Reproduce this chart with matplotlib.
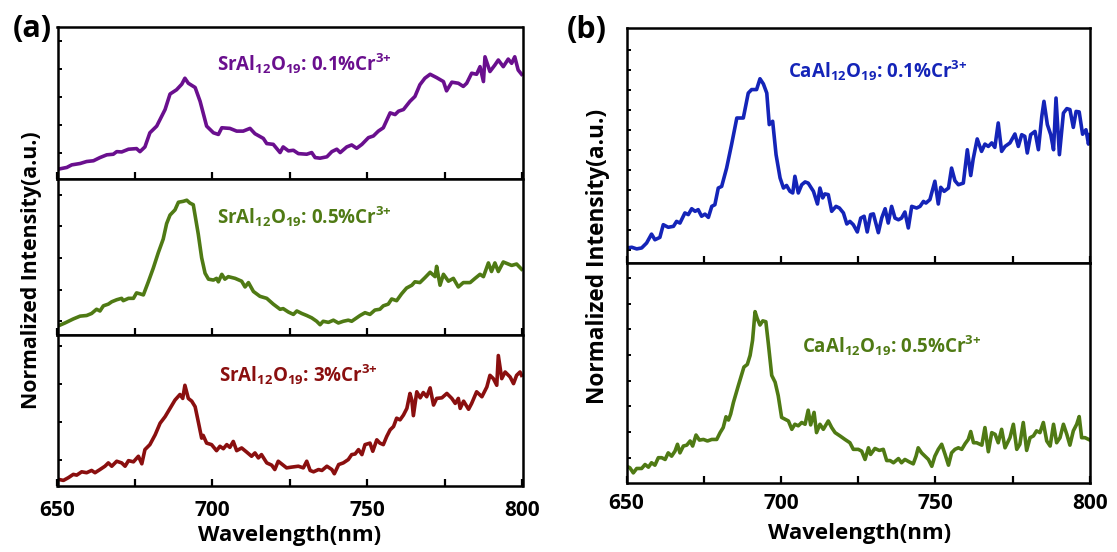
import numpy as np
import matplotlib
matplotlib.use("Agg")
import matplotlib.pyplot as plt

plt.rcParams['font.family'] = ['Open Sans', 'DejaVu Sans']
plt.rcParams['font.weight'] = 'bold'
plt.rcParams['mathtext.fontset'] = 'custom'
plt.rcParams['mathtext.rm'] = 'Open Sans:bold'
plt.rcParams['mathtext.bf'] = 'Open Sans:bold'

# ---- SrAl12O19 : 0.1% Cr3+ ----
sr01_wl = [650.3, 653.0, 654.6, 657.3, 659.4, 661.6, 663.7, 665.9, 668.0, 669.1,
           670.7, 672.9, 675.5, 676.6, 678.2, 679.8, 682.0, 684.7, 686.3, 688.4,
           690.1, 691.1, 692.2, 694.4, 696.0, 698.1, 700.3, 701.9, 703.0, 705.6,
           707.8, 709.9, 712.1, 713.7, 716.4, 717.5, 719.6, 721.8, 722.8, 724.5,
           726.1, 727.7, 730.4, 732.0, 733.1, 734.7, 736.9, 738.5, 740.1, 741.2,
           743.3, 744.9, 746.5, 748.2, 750.3, 751.9, 753.5, 755.1, 757.3, 758.9,
           760.0, 761.6, 763.7, 765.3, 766.9, 768.5, 770.2, 772.3, 774.5, 775.5,
           777.2, 779.3, 780.9, 782.0, 783.6, 785.2, 786.3, 787.4, 787.9, 789.5,
           791.1, 792.2, 793.8, 795.4, 796.5, 797.5, 798.6, 799.7]
sr01_int = [0.065, 0.076, 0.093, 0.102, 0.115, 0.120, 0.141, 0.159, 0.163, 0.180,
            0.178, 0.196, 0.200, 0.180, 0.211, 0.304, 0.348, 0.457, 0.559, 0.587,
            0.624, 0.663, 0.630, 0.602, 0.511, 0.348, 0.304, 0.293, 0.337, 0.333,
            0.315, 0.315, 0.333, 0.298, 0.267, 0.233, 0.228, 0.174, 0.211, 0.185,
            0.189, 0.167, 0.163, 0.174, 0.141, 0.137, 0.146, 0.180, 0.196, 0.174,
            0.211, 0.224, 0.202, 0.228, 0.272, 0.283, 0.315, 0.337, 0.435, 0.424,
            0.446, 0.457, 0.511, 0.543, 0.620, 0.663, 0.689, 0.667, 0.641, 0.580,
            0.637, 0.630, 0.609, 0.630, 0.696, 0.689, 0.739, 0.641, 0.804, 0.707,
            0.750, 0.783, 0.739, 0.789, 0.761, 0.804, 0.717, 0.689]

# ---- SrAl12O19 : 0.5% Cr3+ ----
sr05_wl = [650.3, 652.4, 655.1, 657.3, 659.4, 661.0, 662.6, 663.7, 664.8, 666.4,
           667.5, 669.1, 670.7, 671.2, 672.9, 674.5, 675.5, 676.6, 677.7, 679.3,
           680.9, 682.5, 684.1, 685.2, 686.3, 687.9, 689.0, 690.6, 691.7, 692.7,
           693.8, 695.4, 696.5, 697.6, 698.7, 700.3, 701.3, 701.9, 703.0, 704.0,
           705.1, 707.3, 709.4, 710.5, 711.6, 713.2, 715.3, 717.5, 719.6, 721.8,
           722.8, 724.5, 726.1, 727.2, 728.8, 730.4, 732.0, 733.6, 734.7, 735.7,
           737.4, 739.0, 740.6, 742.2, 743.8, 744.9, 746.0, 747.6, 749.2, 750.8,
           752.4, 754.0, 755.1, 756.7, 757.8, 759.4, 761.0, 762.6, 764.3, 765.3,
           766.9, 768.5, 770.2, 771.8, 772.3, 773.4, 774.5, 776.1, 777.7, 779.3,
           780.9, 783.1, 784.7, 786.3, 787.4, 789.0, 790.0, 791.1, 792.2, 793.8,
           795.4, 796.5, 798.1, 799.7]
sr05_int = [0.059, 0.077, 0.103, 0.121, 0.125, 0.138, 0.165, 0.154, 0.187, 0.198,
            0.213, 0.226, 0.235, 0.220, 0.235, 0.235, 0.270, 0.264, 0.257, 0.341,
            0.429, 0.527, 0.615, 0.714, 0.769, 0.802, 0.851, 0.857, 0.864, 0.846,
            0.835, 0.648, 0.495, 0.396, 0.358, 0.352, 0.363, 0.341, 0.389, 0.358,
            0.374, 0.363, 0.345, 0.308, 0.336, 0.279, 0.248, 0.235, 0.198, 0.165,
            0.169, 0.147, 0.132, 0.154, 0.138, 0.125, 0.110, 0.088, 0.066, 0.088,
            0.081, 0.095, 0.077, 0.088, 0.095, 0.088, 0.103, 0.125, 0.143, 0.132,
            0.160, 0.165, 0.187, 0.198, 0.231, 0.220, 0.264, 0.301, 0.319, 0.341,
            0.336, 0.367, 0.402, 0.374, 0.440, 0.319, 0.389, 0.345, 0.363, 0.308,
            0.336, 0.336, 0.363, 0.389, 0.374, 0.462, 0.407, 0.462, 0.407, 0.468,
            0.455, 0.446, 0.455, 0.422]

# ---- SrAl12O19 : 3% Cr3+ ----
sr3_wl = [650.3, 651.9, 653.5, 655.1, 656.2, 657.8, 659.4, 661.0, 662.1, 663.7,
          665.3, 666.4, 667.5, 669.1, 670.7, 671.8, 672.9, 674.5, 676.1, 677.2,
          678.2, 679.8, 681.5, 683.1, 684.7, 686.3, 687.9, 689.5, 690.4, 691.1,
          692.2, 693.3, 694.4, 695.4, 696.5, 697.0, 698.1, 699.7, 701.3, 702.4,
          703.5, 704.6, 705.6, 706.7, 707.8, 709.4, 711.0, 712.6, 713.7, 714.8,
          715.8, 717.5, 719.1, 720.1, 721.2, 722.8, 723.9, 725.5, 727.7, 729.3,
          730.4, 731.5, 732.6, 734.2, 735.3, 736.9, 738.5, 739.3, 740.7, 742.2,
          743.8, 744.9, 746.0, 747.1, 748.2, 749.2, 750.8, 751.7, 753.0, 754.0,
          755.1, 756.2, 757.3, 758.4, 759.4, 760.5, 761.6, 762.7, 763.7, 764.3,
          764.8, 765.9, 767.0, 768.0, 769.1, 770.2, 771.3, 772.3, 774.0, 775.6,
          777.2, 778.3, 779.3, 779.9, 781.0, 782.6, 783.6, 785.2, 786.9, 788.5,
          789.5, 790.6, 791.7, 792.2, 793.3, 794.4, 796.0, 797.1, 798.1, 799.2,
          799.7]
sr3_int = [0.044, 0.037, 0.055, 0.077, 0.072, 0.094, 0.088, 0.103, 0.088, 0.109,
           0.131, 0.153, 0.131, 0.164, 0.153, 0.131, 0.168, 0.160, 0.197, 0.147,
           0.241, 0.274, 0.339, 0.416, 0.459, 0.514, 0.569, 0.606, 0.580, 0.667,
           0.580, 0.562, 0.525, 0.427, 0.317, 0.335, 0.284, 0.274, 0.234, 0.263,
           0.247, 0.274, 0.256, 0.295, 0.234, 0.252, 0.225, 0.197, 0.219, 0.186,
           0.208, 0.153, 0.138, 0.109, 0.164, 0.138, 0.120, 0.125, 0.131, 0.120,
           0.164, 0.103, 0.094, 0.109, 0.103, 0.131, 0.109, 0.081, 0.142, 0.153,
           0.175, 0.208, 0.212, 0.241, 0.208, 0.274, 0.284, 0.230, 0.306, 0.284,
           0.274, 0.328, 0.372, 0.394, 0.449, 0.438, 0.470, 0.514, 0.613, 0.569,
           0.466, 0.624, 0.584, 0.619, 0.591, 0.650, 0.536, 0.580, 0.584, 0.613,
           0.580, 0.547, 0.580, 0.514, 0.562, 0.508, 0.547, 0.624, 0.591, 0.656,
           0.733, 0.711, 0.667, 0.864, 0.711, 0.755, 0.722, 0.678, 0.733, 0.755,
           0.733]

# ---- CaAl12O19 : 0.1% Cr3+ ----
ca01_wl = [650.1, 651.7, 653.3, 654.9, 656.5, 658.1, 659.2, 660.8, 661.9, 663.5,
           665.2, 666.2, 667.3, 668.9, 670.0, 671.1, 672.2, 673.2, 674.3, 675.4,
           676.5, 677.6, 678.6, 679.7, 680.8, 682.4, 684.0, 685.7, 687.8, 689.4,
           690.5, 692.1, 693.2, 694.3, 695.4, 696.2, 697.3, 698.4, 699.7, 700.8,
           701.8, 702.9, 703.8, 704.5, 705.6, 706.7, 707.8, 708.8, 710.5, 711.8,
           712.6, 713.5, 714.2, 715.3, 716.4, 717.8, 718.9, 720.2, 721.3, 722.3,
           723.4, 724.7, 725.8, 726.9, 727.9, 729.0, 729.9, 731.5, 732.6, 733.7,
           734.7, 735.8, 736.9, 738.0, 739.0, 740.1, 741.2, 742.3, 743.9, 745.0,
           746.1, 746.9, 748.2, 749.8, 750.9, 751.7, 752.8, 754.2, 755.2, 756.3,
           757.4, 759.0, 760.3, 761.4, 762.2, 763.5, 764.9, 766.0, 767.1, 768.2,
           769.2, 770.3, 771.4, 772.5, 774.1, 775.7, 776.8, 777.9, 778.9, 779.7,
           780.8, 782.2, 783.3, 784.4, 785.1, 786.2, 787.3, 788.2, 789.0, 790.1,
           791.4, 792.5, 793.5, 794.6, 795.5, 796.5, 797.6, 798.7, 799.5, 800.0]
ca01_int = [0.064, 0.067, 0.060, 0.064, 0.085, 0.123, 0.099, 0.109, 0.163, 0.152,
            0.156, 0.177, 0.170, 0.213, 0.206, 0.231, 0.220, 0.227, 0.199, 0.208,
            0.194, 0.241, 0.248, 0.319, 0.326, 0.404, 0.504, 0.617, 0.617, 0.723,
            0.738, 0.738, 0.784, 0.762, 0.723, 0.589, 0.603, 0.461, 0.362, 0.319,
            0.330, 0.305, 0.298, 0.369, 0.298, 0.333, 0.345, 0.340, 0.305, 0.251,
            0.319, 0.277, 0.294, 0.291, 0.220, 0.241, 0.234, 0.213, 0.166, 0.177,
            0.163, 0.132, 0.191, 0.199, 0.132, 0.206, 0.209, 0.129, 0.192, 0.231,
            0.170, 0.241, 0.191, 0.184, 0.191, 0.217, 0.149, 0.241, 0.234, 0.241,
            0.262, 0.255, 0.270, 0.348, 0.251, 0.322, 0.305, 0.319, 0.404, 0.350,
            0.333, 0.340, 0.482, 0.372, 0.443, 0.528, 0.475, 0.506, 0.496, 0.511,
            0.492, 0.596, 0.475, 0.496, 0.511, 0.549, 0.496, 0.546, 0.539, 0.468,
            0.546, 0.560, 0.482, 0.624, 0.688, 0.589, 0.546, 0.482, 0.702, 0.461,
            0.638, 0.657, 0.653, 0.577, 0.645, 0.643, 0.548, 0.567, 0.506, 0.546]

# ---- CaAl12O19 : 0.5% Cr3+ ----
ca05_wl = [650.1, 651.1, 652.2, 653.3, 654.9, 656.0, 657.1, 658.1, 659.2, 660.3,
           661.4, 662.5, 663.5, 664.6, 665.7, 666.5, 667.3, 668.4, 669.5, 670.6,
           671.4, 672.5, 673.6, 674.9, 676.2, 677.6, 679.2, 680.3, 681.3, 682.2,
           683.0, 683.7, 684.6, 686.2, 688.0, 689.1, 690.0, 690.8, 691.6, 692.3,
           693.2, 694.1, 695.1, 695.9, 697.0, 698.1, 699.1, 700.2, 701.3, 702.4,
           703.5, 704.5, 705.6, 706.7, 707.8, 708.8, 709.6, 710.7, 711.5, 712.6,
           713.7, 715.3, 716.4, 717.5, 719.1, 720.7, 722.3, 723.4, 725.0, 726.1,
           727.2, 728.3, 729.0, 730.4, 731.8, 733.1, 734.2, 735.3, 736.4, 738.0,
           739.0, 740.1, 741.5, 742.8, 743.7, 744.4, 745.5, 746.6, 747.7, 748.8,
           749.8, 750.9, 752.0, 753.1, 754.2, 755.2, 756.3, 757.4, 758.5, 759.6,
           760.6, 761.4, 762.3, 763.3, 765.0, 766.0, 767.1, 768.2, 769.3, 770.3,
           771.4, 772.5, 774.1, 775.2, 776.3, 777.3, 778.4, 779.5, 780.6, 781.7,
           782.7, 783.8, 784.9, 786.0, 787.1, 788.2, 789.2, 790.3, 791.4, 792.5,
           793.5, 794.6, 795.7, 796.5, 797.3, 798.4, 800.0]
ca05_int = [0.076, 0.069, 0.046, 0.066, 0.066, 0.084, 0.072, 0.092, 0.081, 0.115,
            0.115, 0.107, 0.137, 0.122, 0.145, 0.176, 0.137, 0.168, 0.172, 0.191,
            0.168, 0.218, 0.195, 0.198, 0.191, 0.198, 0.198, 0.229, 0.252, 0.301,
            0.286, 0.313, 0.366, 0.443, 0.527, 0.539, 0.580, 0.649, 0.779, 0.748,
            0.718, 0.737, 0.733, 0.634, 0.489, 0.458, 0.397, 0.298, 0.290, 0.282,
            0.244, 0.267, 0.260, 0.275, 0.267, 0.331, 0.264, 0.321, 0.229, 0.267,
            0.244, 0.282, 0.252, 0.229, 0.214, 0.198, 0.183, 0.153, 0.153, 0.145,
            0.107, 0.160, 0.130, 0.157, 0.148, 0.153, 0.102, 0.102, 0.092, 0.111,
            0.092, 0.107, 0.096, 0.087, 0.122, 0.160, 0.137, 0.122, 0.107, 0.076,
            0.122, 0.153, 0.176, 0.130, 0.081, 0.137, 0.153, 0.160, 0.153, 0.179,
            0.198, 0.234, 0.183, 0.183, 0.172, 0.252, 0.142, 0.229, 0.221, 0.183,
            0.244, 0.160, 0.206, 0.267, 0.153, 0.176, 0.275, 0.148, 0.206, 0.214,
            0.237, 0.229, 0.275, 0.191, 0.168, 0.267, 0.183, 0.206, 0.267, 0.221,
            0.172, 0.237, 0.267, 0.302, 0.206, 0.206, 0.195]

W, H = 1117, 552


def frac(x0, y0, x1, y1):
    # pixel box (top-left origin) -> figure fraction rect
    return [x0 / W, 1 - y1 / H, (x1 - x0) / W, (y1 - y0) / H]


def style_axes(ax, yticks, show_xlabels, pad=7):
    ax.set_xlim(650, 800)
    ax.set_ylim(0, 1)
    ax.set_xticks([650, 700, 750, 800])
    ax.set_xticks([675, 725, 775], minor=True)
    ax.set_yticks(yticks)
    ax.tick_params(axis='x', which='both', direction='in', length=5, width=1.6,
                   labelsize=15, pad=pad, top=False)
    ax.tick_params(axis='y', direction='in', length=3, width=1.4, labelleft=False,
                   right=False)
    if not show_xlabels:
        ax.tick_params(axis='x', labelbottom=False)
    for sp in ax.spines.values():
        sp.set_linewidth(1.8)


def label(ax, x, y, head, dope, color):
    txt = (head + r'Al$_{\mathbf{12}}$O$_{\mathbf{19}}$: ' + dope
           + r'%Cr$^{\mathbf{3}\text{+}}$')
    ax.text(x, y, txt, transform=ax.transAxes, color=color, fontsize=13.5,
            fontweight='bold', va='center', ha='left')


purple = '#6a0f8e'
green = '#4f7a14'
darkred = '#8a0f0f'
blue = '#1424b8'
lw = 2.6

fig = plt.figure(figsize=(W / 100, H / 100), dpi=100)

# panel (a): three stacked spectra
ax_a1 = fig.add_axes(frac(57.5, 27, 522.5, 179))
ax_a2 = fig.add_axes(frac(57.5, 179, 522.5, 335))
ax_a3 = fig.add_axes(frac(57.5, 335, 522.5, 486))

ax_a1.plot(sr01_wl, sr01_int, color=purple, lw=lw)
ax_a2.plot(sr05_wl, sr05_int, color=green, lw=lw)
ax_a3.plot(sr3_wl, sr3_int, color=darkred, lw=lw)

style_axes(ax_a1, np.arange(0.168, 1.0, 0.185), False)
style_axes(ax_a2, np.arange(0.088, 1.0, 0.203), False)
style_axes(ax_a3, np.arange(0.175, 1.0, 0.251), True, pad=10)

label(ax_a1, 0.343, 0.76, 'Sr', '0.1', purple)
label(ax_a2, 0.343, 0.756, 'Sr', '0.5', green)
label(ax_a3, 0.348, 0.735, 'Sr', '3', darkred)

# panel (b): two stacked spectra
ax_b1 = fig.add_axes(frac(626.5, 28, 1090, 263))
ax_b2 = fig.add_axes(frac(626.5, 263, 1090, 483))

ax_b1.plot(ca01_wl, ca01_int, color=blue, lw=lw)
ax_b2.plot(ca05_wl, ca05_int, color=green, lw=lw)

style_axes(ax_b1, np.arange(0.057, 0.95, 0.0851), False)
style_axes(ax_b2, np.arange(0.115, 1.0, 0.1166), True, pad=7)

label(ax_b1, 0.348, 0.818, 'Ca', '0.1', blue)
label(ax_b2, 0.379, 0.626, 'Ca', '0.5', green)

# shared axis titles and panel letters
fig.text(32 / W, 1 - 270 / H, 'Normalized Intensity(a.u.)', rotation=90,
         fontsize=15.3, fontweight='bold', ha='center', va='center')
fig.text(598 / W, 1 - 256 / H, 'Normalized Intensity(a.u.)', rotation=90,
         fontsize=16.3, fontweight='bold', ha='center', va='center')
fig.text(290 / W, 1 - 535 / H, 'Wavelength(nm)', fontsize=16, fontweight='bold',
         ha='center', va='center')
fig.text(860 / W, 1 - 534 / H, 'Wavelength(nm)', fontsize=16, fontweight='bold',
         ha='center', va='center')
fig.text(32 / W, 1 - 29 / H, '(a)', fontsize=22, fontweight='bold',
         ha='center', va='center')
fig.text(587 / W, 1 - 30 / H, '(b)', fontsize=22, fontweight='bold',
         ha='center', va='center')

fig.savefig('out.png', dpi=100)
